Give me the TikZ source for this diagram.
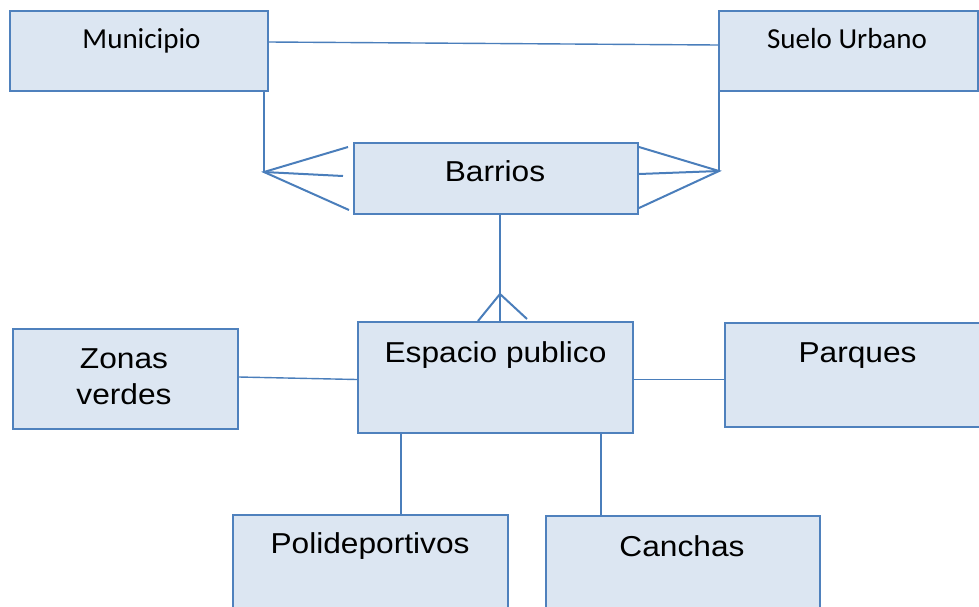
\documentclass[tikz,border=0pt]{standalone}
\usepackage{fontspec}
\setmainfont{Liberation Sans}[FakeStretch=1.1]
\newfontfamily\calfont{Carlito}
\definecolor{boxfill}{HTML}{DCE6F2}
\definecolor{boxline}{HTML}{4F81BD}
\definecolor{conline}{HTML}{4A7EBB}
\begin{document}
\begin{tikzpicture}[x=1pt,y=-1pt,
  ent/.style={draw=boxline,fill=boxfill,line width=2pt,inner sep=0pt,anchor=north west},
  lbl/.style={inner sep=0pt,anchor=base,font=\fontsize{28.8}{36}\selectfont,align=center},
  clbl/.style={inner sep=0pt,anchor=base,font=\calfont\fontsize{29}{34}\selectfont},
  con/.style={draw=conline,line width=1.4pt},
  crow/.style={draw=conline,line width=2pt}]
\useasboundingbox (0,0) rectangle (979,606);
% boxes
\node[ent,minimum width=258pt,minimum height=80pt] (mun) at (9,10) {};
\node[ent,minimum width=259pt,minimum height=80pt] (suelo) at (718,10) {};
\node[ent,minimum width=284pt,minimum height=71pt] (barrios) at (353,142) {};
\node[ent,minimum width=275pt,minimum height=111pt] (esp) at (357,321) {};
\node[ent,minimum width=225pt,minimum height=100pt] (zonas) at (12,328) {};
\node[ent,minimum width=262pt,minimum height=104pt] (parques) at (724,322) {};
\node[ent,minimum width=275pt,minimum height=100pt] (poli) at (232,514) {};
\node[ent,minimum width=274pt,minimum height=100pt] (canchas) at (545,515) {};
% labels
\node[clbl] (tmun) at (141.5,48) {Municipio};
\node[clbl] (tsuelo) at (847,48) {Suelo Urbano};
\node[lbl] (tbarrios) at (495,181) {Barrios};
\node[lbl] (tesp) at (495.5,362) {Espacio publico};
\node[lbl] (tzonas) at (124,404) {Zonas\\verdes};
\node[lbl] (tparques) at (857.5,362) {Parques};
\node[lbl] (tpoli) at (370,553) {Polideportivos};
\node[lbl] (tcanchas) at (682,556) {Canchas};
% Municipio -- Suelo Urbano
\draw[con] (mun.east |- 0,42) -- (suelo.west |- 0,45);
% left crow's foot (Municipio -> Barrios)
\coordinate (la) at (264,172);
\coordinate (l1) at (348,147);
\coordinate (l2) at (343,176);
\coordinate (l3) at (349,210);
\draw[crow] (la |- mun.south) -- (la);
\draw[crow] (l1) -- (la) -- (l3);
\draw[crow] (la) -- (l2);
% right crow's foot (Suelo Urbano -> Barrios)
\coordinate (ra) at (719,171);
\draw[crow] (ra |- suelo.south) -- (ra);
\draw[crow] (barrios.east |- 0,147) -- (ra) -- (barrios.east |- 0,208);
\draw[crow] (barrios.east |- 0,174) -- (ra);
% Barrios -> Espacio publico
\coordinate (ba) at (500,294);
\draw[con] (ba |- barrios.south) -- (ba |- esp.north);
\draw[crow] (478,321) -- (ba) -- (527,319);
% Espacio publico connections
\draw[con] (zonas.east |- 0,377) -- (esp.west |- 0,379.5);
\draw[con] (esp.east |- 0,379.5) -- (parques.west |- 0,379.5);
\coordinate (pc) at (401,0);
\coordinate (cc) at (601,0);
\draw[con] (pc |- esp.south) -- (pc |- poli.north);
\draw[con] (cc |- esp.south) -- (cc |- canchas.north);
\end{tikzpicture}
\end{document}
